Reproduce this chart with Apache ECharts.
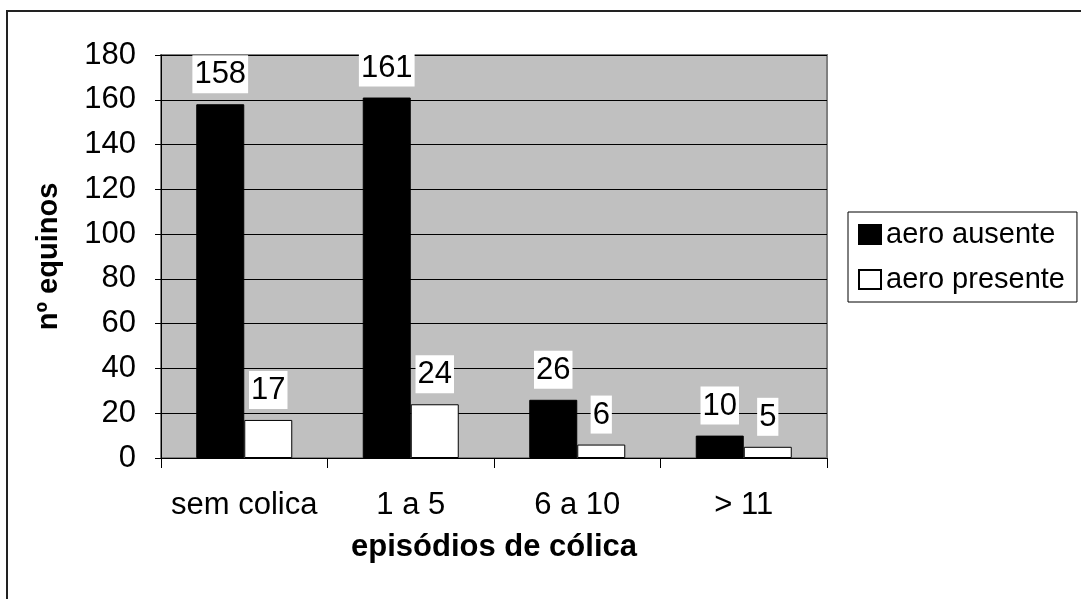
<!DOCTYPE html>
<html>
<head>
<meta charset="utf-8">
<script src="https://cdn.jsdelivr.net/npm/echarts@6/dist/echarts.min.js"></script>
<style>
html,body{margin:0;padding:0;background:#fff;}
#chart{width:1081px;height:599px;}
</style>
</head>
<body>
<div id="chart"></div>
<script>
const categories = ['sem colica', '1 a 5', '6 a 10', '> 11'];
const aeroAusente = [158, 161, 26, 10];
const aeroPresente = [17, 24, 6, 5];
const seriesNames = ['aero ausente', 'aero presente'];
const xAxisTitle = 'episódios de cólica';
const yAxisTitle = 'nº equinos';

const FONT = "'Liberation Sans', Arial, sans-serif";
const chart = echarts.init(document.getElementById('chart'), null, {renderer: 'canvas'});

const labelCfg = {
  show: true,
  position: 'top',
  distance: 11,
  color: '#000',
  fontFamily: FONT,
  fontSize: 31,
  backgroundColor: '#fff',
  padding: [4, 2, 3, 2]
};

chart.setOption({
  animation: false,
  backgroundColor: '#fff',
  textStyle: {fontFamily: FONT},
  graphic: [{
    type: 'rect',
    shape: {x: 7, y: 11, width: 1100, height: 620},
    style: {fill: 'none', stroke: '#222', lineWidth: 2},
    silent: true,
    z: 100
  }],
  grid: {
    left: 161, right: 254, top: 55, bottom: 141,
    show: true,
    backgroundColor: '#c0c0c0',
    borderColor: '#808080',
    borderWidth: 2
  },
  legend: {
    orient: 'vertical',
    left: 848,
    top: 212,
    data: seriesNames,
    icon: 'rect',
    itemWidth: 22,
    itemHeight: 19,
    itemGap: 16,
    padding: [8, 12, 8, 10],
    borderColor: '#000',
    borderWidth: 1,
    backgroundColor: '#fff',
    textStyle: {fontFamily: FONT, fontSize: 29, color: '#000'}
  },
  xAxis: {
    type: 'category',
    data: categories,
    name: xAxisTitle,
    nameLocation: 'middle',
    nameGap: 74,
    nameTextStyle: {fontFamily: FONT, fontSize: 31, fontWeight: 'bold', color: '#000'},
    axisLine: {lineStyle: {color: '#000', width: 1}},
    axisTick: {show: true, length: 10, lineStyle: {color: '#000'}},
    axisLabel: {interval: 0, margin: 32, fontFamily: FONT, fontSize: 31, color: '#000'},
    splitLine: {show: false}
  },
  yAxis: {
    type: 'value',
    min: 0, max: 180, interval: 20,
    name: yAxisTitle,
    nameLocation: 'middle',
    nameGap: 98,
    nameRotate: 90,
    nameTextStyle: {fontFamily: FONT, fontSize: 29, fontWeight: 'bold', color: '#000'},
    axisLine: {show: true, lineStyle: {color: '#000', width: 1}},
    axisTick: {show: true, length: 6, lineStyle: {color: '#000'}},
    axisLabel: {margin: 25, fontFamily: FONT, fontSize: 31, color: '#000'},
    splitLine: {show: true, lineStyle: {color: '#000', width: 1}}
  },
  series: [
    {
      name: seriesNames[0],
      type: 'bar',
      data: aeroAusente,
      barWidth: 48,
      barGap: '0%',
      itemStyle: {color: '#000', borderColor: '#000', borderWidth: 1},
      label: labelCfg
    },
    {
      name: seriesNames[1],
      type: 'bar',
      data: aeroPresente,
      barWidth: 48,
      barGap: '0%',
      itemStyle: {color: '#fff', borderColor: '#000', borderWidth: 1},
      label: labelCfg
    }
  ]
});
</script>
</body>
</html>
